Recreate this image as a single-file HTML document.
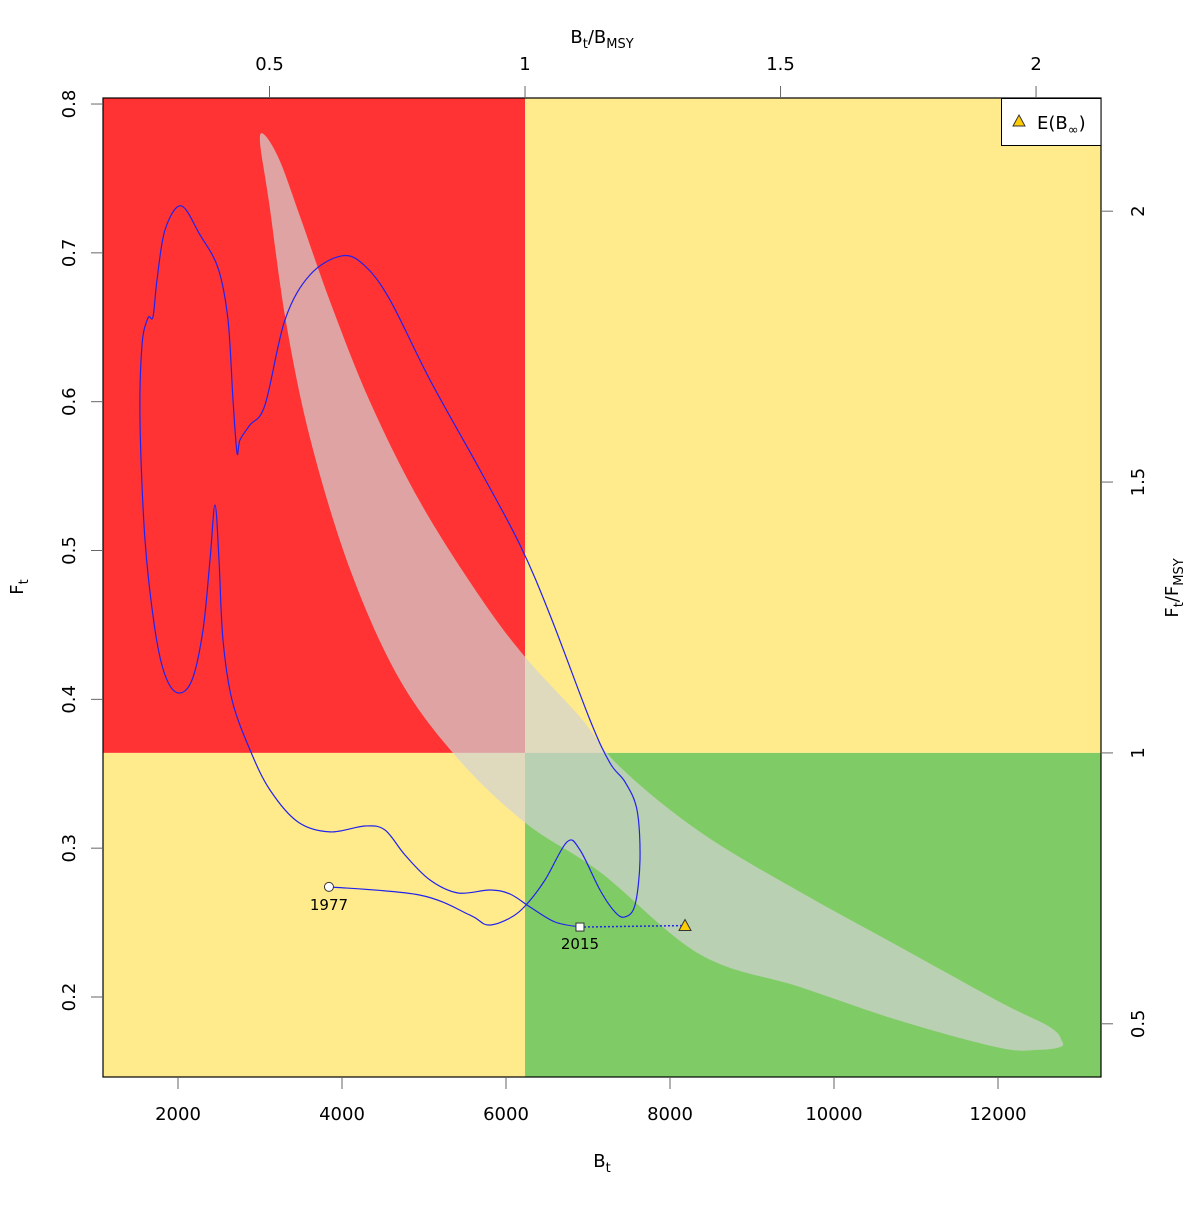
<!DOCTYPE html>
<html><head><meta charset="utf-8">
<style>
html,body{margin:0;padding:0;background:#fff;}
svg text{font-family:"DejaVu Sans","Liberation Sans",sans-serif;fill:#000;}
</style></head>
<body>
<svg id="chart" width="1200" height="1200" viewBox="0 0 1200 1200" xmlns="http://www.w3.org/2000/svg"></svg>
<script>
// ---- data ----
const xTicks = [2000,4000,6000,8000,10000,12000];
const yTicks = [0.2,0.3,0.4,0.5,0.6,0.7,0.8];
const topTicks = [0.5,1,1.5,2];
const rightTicks = [0.5,1,1.5,2];
const Bmsy = 6232;
const Fmsy = 0.364;
const trajB = [3841,4951,5561,5780,6049,6244,6476,6744,6902,7146,7329,7451,7573,7634,7597,7451,7268,7024,6537,6171,5683,5073,4585,4280,4000,3610,3305,3061,2878,2756,2720,2671,2610,2488,2268,2037,1841,1744,1695,1634,1561,1537,1598,1720,1841,2000,2171,2305,2390,2451,2500,2549,2659,2878,3122,3463,3854,4280,4524,4768,5073,5415,5805,6049,6293,6598,6902];
const trajF = [0.274,0.2685,0.255,0.2484,0.2531,0.2618,0.2786,0.3042,0.2988,0.2719,0.2571,0.2538,0.2618,0.2921,0.3257,0.3445,0.3572,0.3861,0.4567,0.5037,0.5541,0.6146,0.6684,0.6912,0.698,0.6852,0.655,0.5978,0.5844,0.5743,0.5656,0.6012,0.655,0.6899,0.7121,0.7316,0.7154,0.6818,0.657,0.6563,0.6381,0.5877,0.5071,0.4466,0.4164,0.4043,0.413,0.4466,0.4937,0.5306,0.4937,0.4399,0.3996,0.366,0.3391,0.3176,0.3109,0.3149,0.3122,0.2954,0.2786,0.2699,0.2719,0.2692,0.2605,0.2504,0.247];
const startYear = "1977", endYear = "2015";
const eqB = 8183, eqF = 0.248;
// confidence region outline (B, F)
const regionB = [3061,3244,3488,3854,4341,4951,5683,6232,6902,7390,8366,9585,10805,12024,12634,12780,12760,12500,12024,10805,9585,8366,7146,6256,5451,4720,4110,3622,3317,3110,3000];
const regionF = [0.7789,0.7615,0.7245,0.6674,0.5999,0.5327,0.4688,0.4285,0.3882,0.3546,0.3109,0.2706,0.2336,0.1966,0.1798,0.1704,0.1664,0.1645,0.1658,0.1840,0.2067,0.2286,0.2840,0.3162,0.3579,0.4117,0.4856,0.5730,0.6536,0.7342,0.7745];
// ---- scales ----
const X0=103,X1=1101,Y0=98,Y1=1077;
const xs = v => 178 + (v-2000)*0.082;
const ys = v => 997 - (v-0.2)*1488.3;
const ts = r => xs(r*Bmsy);
const rs = r => ys(r*Fmsy);
const NS="http://www.w3.org/2000/svg";
const svg=document.getElementById('chart');
function mk(tag,attrs,parent){const e=document.createElementNS(NS,tag);for(const k in attrs)e.setAttribute(k,attrs[k]);(parent||svg).appendChild(e);return e;}
// clip
const defs=mk('defs',{});
const cp=mk('clipPath',{id:'pc'},defs);mk('rect',{x:X0,y:Y0,width:X1-X0,height:Y1-Y0},cp);
const g=mk('g',{'clip-path':'url(#pc)'});
const bx=xs(Bmsy), fy=ys(Fmsy);
let r;
r=mk('rect',{x:X0,y:Y0,width:bx-X0,height:fy-Y0,fill:'#ff3333'},g);


r=mk('rect',{x:bx,y:Y0,width:X1-bx,height:fy-Y0,fill:'#ffeb8b'},g);


r=mk('rect',{x:X0,y:fy,width:bx-X0,height:Y1-fy,fill:'#ffeb8b'},g);


r=mk('rect',{x:bx,y:fy,width:X1-bx,height:Y1-fy,fill:'#7fcc66'},g);


// catmull-rom path
function smooth(px,py,closed){
  const n=px.length;let d='M'+px[0]+','+py[0];
  const gi=i=>closed?((i%n)+n)%n:Math.max(0,Math.min(n-1,i));
  const last=closed?n:n-1;
  for(let i=0;i<last;i++){
    const p0=gi(i-1),p1=gi(i),p2=gi(i+1),p3=gi(i+2);
    const c1x=px[p1]+(px[p2]-px[p0])/6,c1y=py[p1]+(py[p2]-py[p0])/6;
    const c2x=px[p2]-(px[p3]-px[p1])/6,c2y=py[p2]-(py[p3]-py[p1])/6;
    d+=' C'+c1x.toFixed(1)+','+c1y.toFixed(1)+' '+c2x.toFixed(1)+','+c2y.toFixed(1)+' '+px[p2].toFixed(1)+','+py[p2].toFixed(1);
  }
  return d+(closed?'Z':'');
}
const reg=mk('path',{d:smooth(regionB.map(xs),regionF.map(ys),true),fill:'rgba(210,210,210,0.71)',stroke:'none'},g);


const tr=mk('path',{d:smooth(trajB.map(xs),trajF.map(ys),false),fill:'none',stroke:'#2222ee','stroke-width':1.2},g);


const lb=trajB[trajB.length-1], lf=trajF[trajF.length-1];
const pl=mk('line',{x1:xs(lb),y1:ys(lf),x2:xs(eqB),y2:ys(eqF),stroke:'#2222ee','stroke-width':1.5,'stroke-dasharray':'2,2'},g);


const sc=mk('circle',{cx:xs(trajB[0]),cy:ys(trajF[0]),r:4.5,fill:'#fff',stroke:'#333'});


const sq=mk('rect',{x:xs(lb)-4,y:ys(lf)-4,width:8,height:8,fill:'#fff',stroke:'#333'});


const ex=xs(eqB),ey=ys(eqF);
const tri=mk('polygon',{points:(ex-6)+','+(ey+5)+' '+(ex+6)+','+(ey+5)+' '+ex+','+(ey-6),fill:'#ffcc00',stroke:'#333'});


let t=mk('text',{x:xs(trajB[0]),y:ys(trajF[0])+23,'text-anchor':'middle','font-size':15});t.textContent=startYear;


t=mk('text',{x:xs(lb),y:ys(lf)+22,'text-anchor':'middle','font-size':15});t.textContent=endYear;


// frame
const fr=mk('rect',{x:X0,y:Y0,width:X1-X0,height:Y1-Y0,fill:'none',stroke:'#000','stroke-width':1.2});


// axes
xTicks.forEach(v=>{const x=xs(v);mk('line',{x1:x,y1:Y1,x2:x,y2:Y1+12,stroke:'#666'});
  const e=mk('text',{x:x,y:1120,'text-anchor':'middle','font-size':18});e.textContent=v;
  
  });
yTicks.forEach(v=>{const y=ys(v);mk('line',{x1:X0,y1:y,x2:X0-12,y2:y,stroke:'#666'});
  const e=mk('text',{x:75,y:y,'text-anchor':'middle','font-size':18,transform:'rotate(-90 75 '+y+')'});e.textContent=v.toFixed(1);
  
  });
topTicks.forEach(v=>{const x=ts(v);mk('line',{x1:x,y1:Y0,x2:x,y2:Y0-12,stroke:'#666'});
  const e=mk('text',{x:x,y:70,'text-anchor':'middle','font-size':18});e.textContent=v;
  
  });
rightTicks.forEach(v=>{const y=rs(v);mk('line',{x1:X1,y1:y,x2:X1+12,y2:y,stroke:'#666'});
  const e=mk('text',{x:1144,y:y,'text-anchor':'middle','font-size':18,transform:'rotate(-90 1144 '+y+')'});e.textContent=v;
  
  });
</script>
<svg style="position:absolute;left:0;top:0" width="1200" height="1200" xmlns="http://www.w3.org/2000/svg">
<text x="602" y="1167" text-anchor="middle" font-size="18">B<tspan font-size="13" dy="5">t</tspan></text>
<text x="602" y="43" text-anchor="middle" font-size="18">B<tspan font-size="13" dy="5">t</tspan><tspan dy="-5">/B</tspan><tspan font-size="13" dy="5">MSY</tspan></text>
<text x="23" y="587" text-anchor="middle" font-size="18" transform="rotate(-90 23 587)">F<tspan font-size="13" dy="5">t</tspan></text>
<text x="1178" y="588" text-anchor="middle" font-size="18" transform="rotate(-90 1178 588)">F<tspan font-size="13" dy="5">t</tspan><tspan dy="-5">/F</tspan><tspan font-size="13" dy="5">MSY</tspan></text>
<g>
<rect x="1001.5" y="98.5" width="99.5" height="47" fill="#fff" stroke="#000"/>
<polygon points="1013,126 1025,126 1019,115" fill="#ffcc00" stroke="#333"/>
<text x="1037" y="129" font-size="18">E(B<tspan font-size="13" dy="5">∞</tspan><tspan dy="-5">)</tspan></text>
</g>
</svg>
</body></html>
